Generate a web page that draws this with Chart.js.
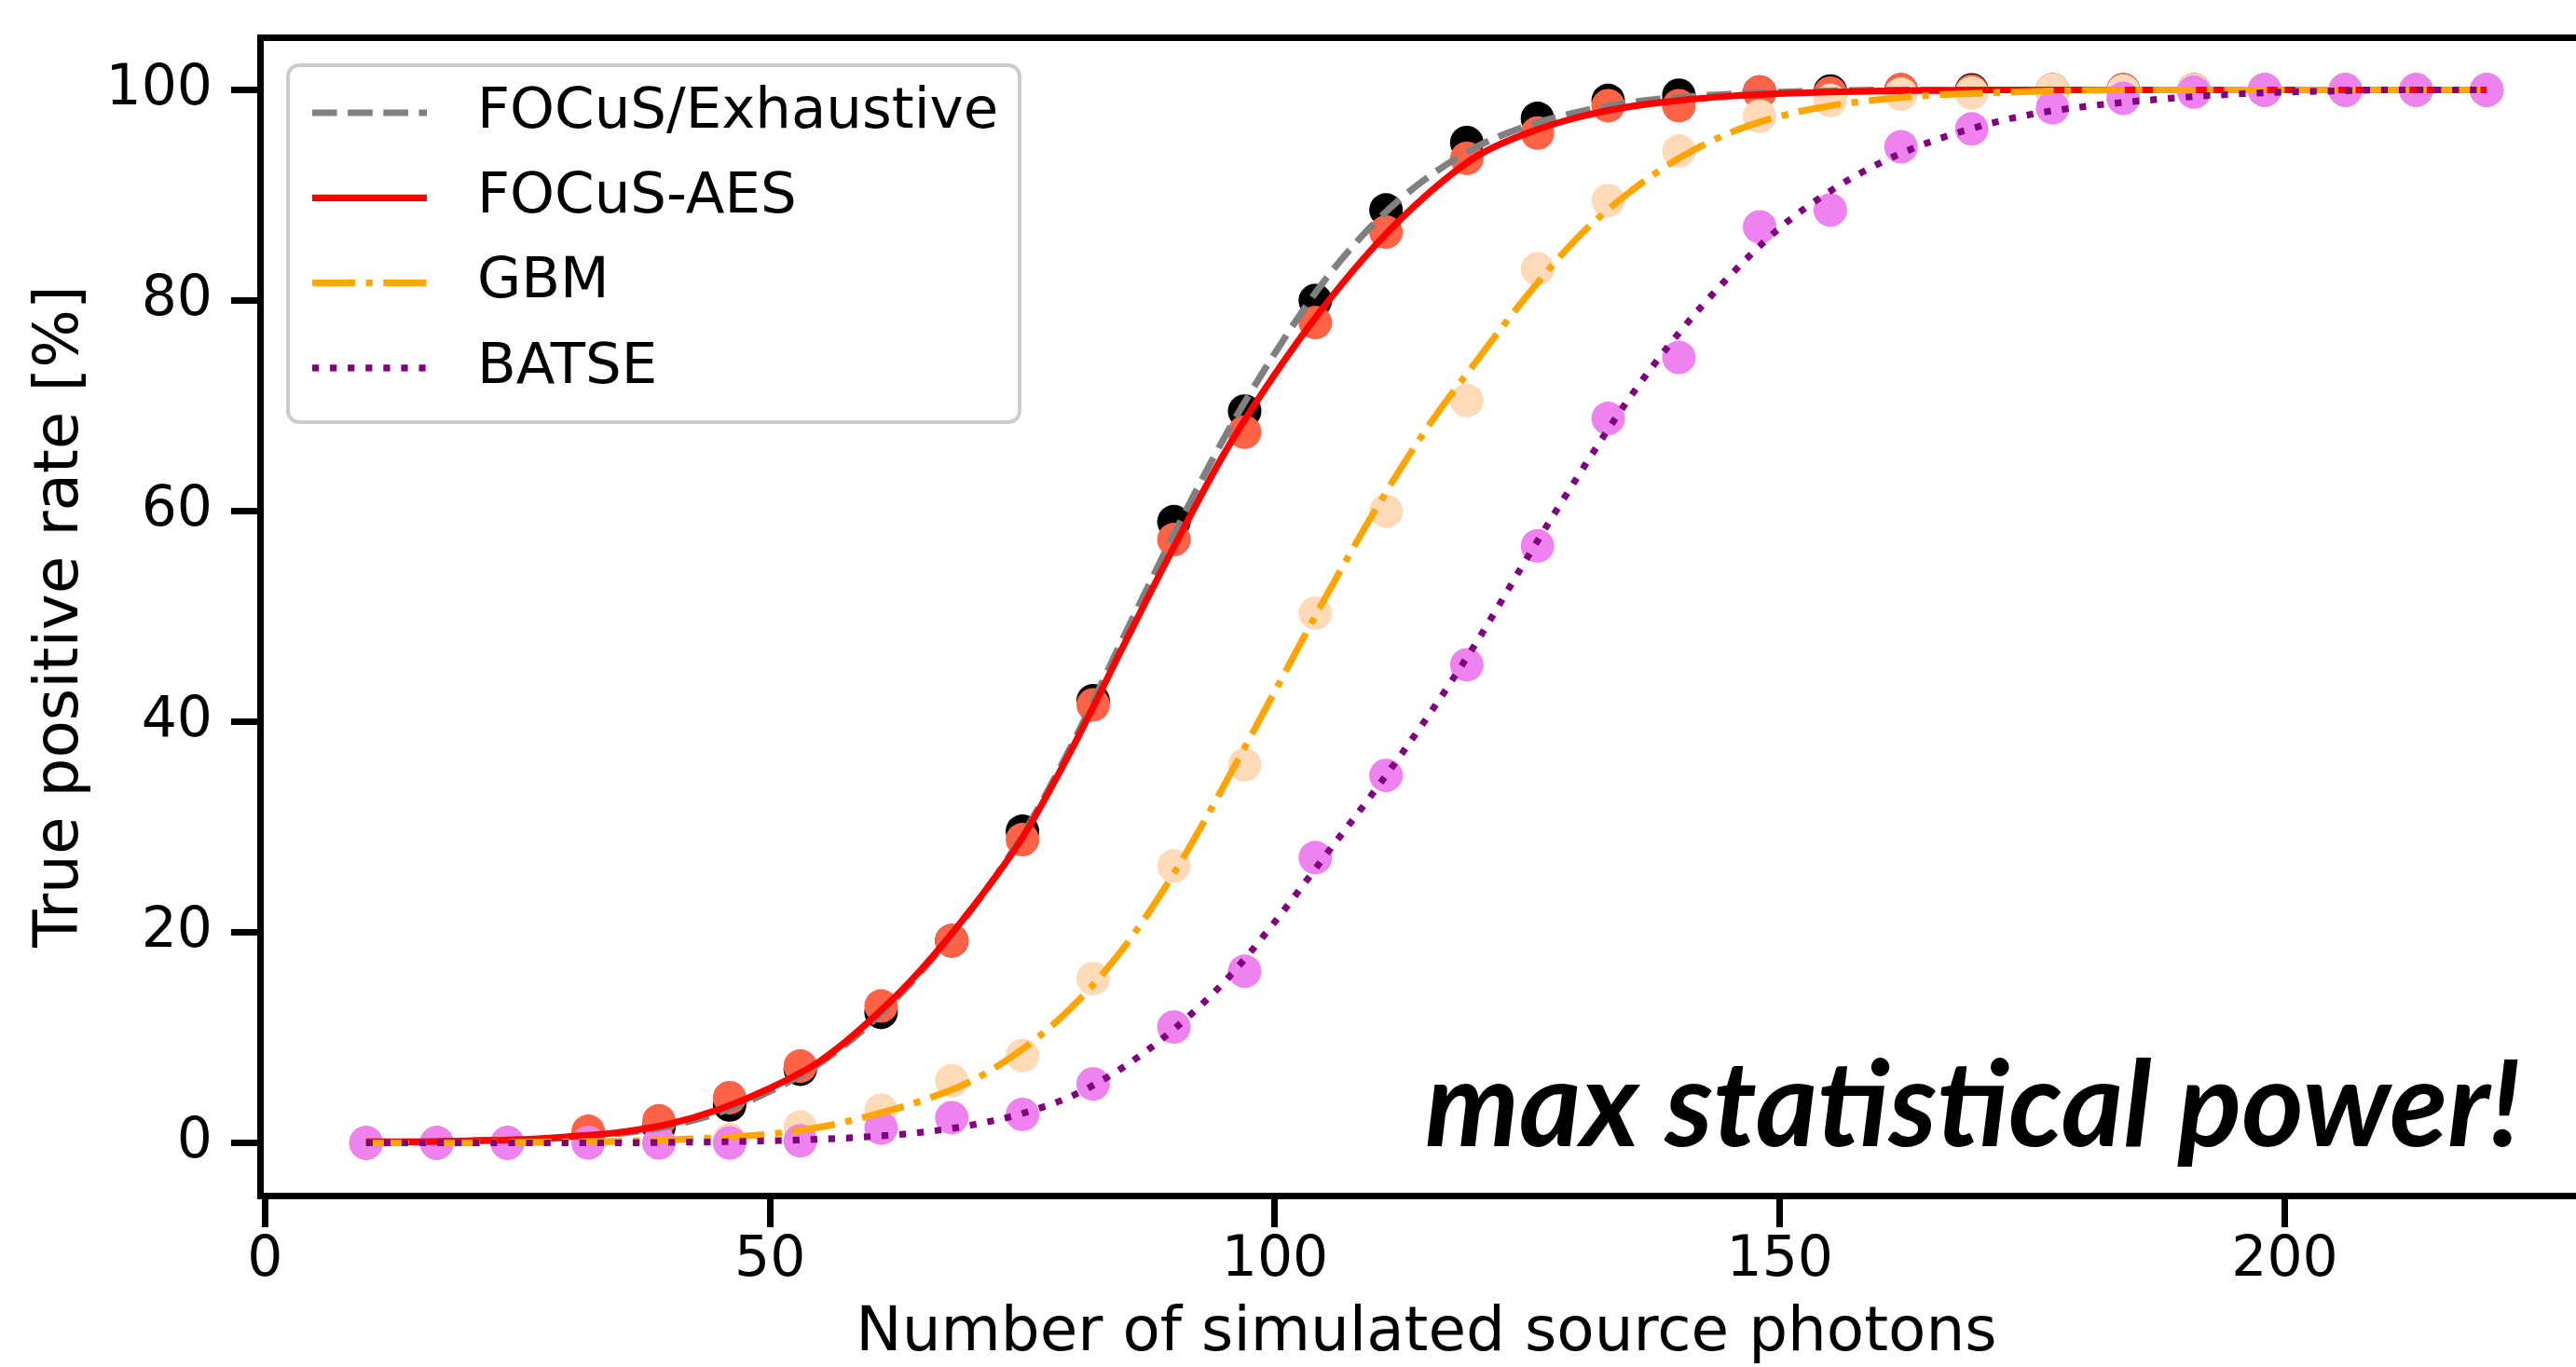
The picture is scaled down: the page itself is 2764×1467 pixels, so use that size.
<!DOCTYPE html>
<html>
<head>
<meta charset="utf-8">
<title>True positive rate vs source photons</title>
<script src="https://cdn.jsdelivr.net/npm/chart.js@4.4.1/dist/chart.umd.min.js"></script>
<style>
  html, body { margin: 0; padding: 0; overflow: hidden; background: #fff; }
  #wrap { width: 2800px; height: 1467px; }
</style>
</head>
<body>
<div id="wrap"><canvas id="tpr-canvas" width="2800" height="1467"></canvas></div>
<script>
// measured points (simulated source photons -> true positive rate in %)
const photons = [10, 17, 24, 32, 39, 46, 53, 61, 68, 75, 82, 90, 97, 104, 111, 119, 126, 133, 140, 148, 155, 162, 169, 177, 184, 191, 198, 206, 213, 220];
const exhaustiveRate = [0, 0, 0, 0.6, 1.5, 3.6, 7.0, 12.4, 19.2, 29.6, 42.0, 59.0, 69.5, 80.0, 88.6, 95.0, 97.3, 99.0, 99.5, 99.8, 99.9, 100, 100, 100, 100, 100, 100, 100, 100, 100];
const aesRate = [0, 0, 0, 1.1, 2.1, 4.3, 7.3, 13.0, 19.2, 28.8, 41.6, 57.3, 67.5, 77.9, 86.5, 93.5, 95.9, 98.5, 98.5, 99.8, 99.7, 100, 99.9, 100, 100, 100, 100, 100, 100, 100];
const gbmRate = [0, 0, 0, 0, 0, 0.3, 1.5, 3.1, 5.9, 8.3, 15.6, 26.3, 35.9, 50.3, 60.0, 70.5, 83.0, 89.5, 94.2, 97.5, 99.0, 99.6, 99.7, 100, 99.9, 100, 100, 100, 100, 100];
const batseRate = [0, 0, 0, 0, 0, 0, 0.2, 1.4, 2.4, 2.7, 5.6, 11.0, 16.3, 27.1, 34.9, 45.4, 56.7, 68.8, 74.6, 87.0, 88.6, 94.6, 96.3, 98.3, 99.2, 99.8, 100, 100, 100, 100];

// fitted curves, every 5 photons
const fitPhotons = [10, 15, 20, 25, 30, 35, 40, 45, 50, 55, 60, 65, 70, 75, 80, 85, 90, 95, 100, 105, 110, 115, 120, 125, 130, 135, 140, 145, 150, 155, 160, 165, 170, 175, 180, 185, 190, 195, 200, 205, 210, 215, 220];
const exhaustiveFit = [0.1, 0.1, 0.2, 0.3, 0.5, 0.9, 1.6, 2.9, 4.9, 7.6, 11.4, 16.3, 22.2, 29.2, 38.0, 48.0, 57.8, 67.0, 75.0, 82.0, 87.5, 91.6, 94.6, 96.6, 97.9, 98.8, 99.3, 99.6, 99.8, 99.9, 100, 100, 100, 100, 100, 100, 100, 100, 100, 100, 100, 100, 100];
const aesFit = [0.1, 0.1, 0.2, 0.3, 0.6, 1.0, 1.8, 3.2, 5.2, 7.8, 11.7, 16.5, 22.3, 29.0, 37.6, 47.2, 56.6, 65.5, 73.0, 79.6, 85.3, 90.0, 93.7, 95.9, 97.4, 98.4, 99.0, 99.4, 99.65, 99.8, 99.9, 99.95, 100, 100, 100, 100, 100, 100, 100, 100, 100, 100, 100];
const gbmFit = [0, 0, 0, 0.05, 0.1, 0.15, 0.3, 0.5, 0.85, 1.5, 2.6, 4.0, 5.9, 8.9, 13.0, 18.5, 25.6, 34.0, 42.9, 51.8, 60.2, 67.8, 74.3, 80.5, 86.0, 90.2, 93.5, 95.9, 97.5, 98.5, 99.1, 99.5, 99.7, 99.85, 99.95, 100, 100, 100, 100, 100, 100, 100, 100];
const batseFit = [0, 0, 0, 0, 0, 0, 0.05, 0.1, 0.2, 0.35, 0.6, 1.0, 1.7, 2.8, 4.5, 7.2, 10.8, 15.3, 21.0, 27.3, 33.6, 40.3, 47.6, 55.6, 63.3, 70.6, 76.9, 82.3, 86.9, 90.4, 93.1, 95.1, 96.6, 97.7, 98.4, 98.9, 99.3, 99.6, 99.8, 99.9, 100, 100, 100];

const seriesNames = ['FOCuS/Exhaustive', 'FOCuS-AES', 'GBM', 'BATSE'];
const xTicks = [0, 50, 100, 150, 200];
const yTicks = [0, 20, 40, 60, 80, 100];

const LW = 7.2;
// matplotlib-like line styles
const lineStyles = [
    { color: '#808080', dash: [3.7 * LW, 1.6 * LW] },
    { color: '#ff0000', dash: [] },
    { color: '#ffa500', dash: [6.4 * LW, 1.6 * LW, 1 * LW, 1.6 * LW] },
    { color: '#800080', dash: [1 * LW, 1.65 * LW] }
];
const dotColors = ['#000000', '#ff6347', '#ffdab9', '#ee82ee'];

const pts = (xs, ys) => xs.map((x, i) => ({ x: x, y: ys[i] }));
const rates = [exhaustiveRate, aesRate, gbmRate, batseRate];
const fits = [exhaustiveFit, aesFit, gbmFit, batseFit];

const datasets = [];
// lines on top of every dot, purple top-most (lowest order drawn last)
fits.forEach((f, i) => {
    datasets.push({
        label: seriesNames[i],
        data: pts(fitPhotons, f),
        showLine: true,
        pointRadius: 0,
        pointHoverRadius: 0,
        borderColor: lineStyles[i].color,
        borderWidth: LW,
        borderDash: lineStyles[i].dash,
        borderCapStyle: 'butt',
        cubicInterpolationMode: 'monotone',
        fill: false,
        order: 3 - i
    });
});
rates.forEach((r, i) => {
    datasets.push({
        label: seriesNames[i] + ' points',
        data: pts(photons, r),
        showLine: false,
        pointRadius: 18,
        pointHoverRadius: 18,
        pointBorderWidth: 0,
        pointBackgroundColor: dotColors[i],
        order: 7 - i
    });
});

// legend box in the upper left corner of the axes
const boxLegend = {
    id: 'boxLegend',
    afterDatasetsDraw(chart) {
        const { ctx, chartArea } = chart;
        const left = chartArea.left + 30;
        const top = chartArea.top + 30;
        ctx.save();
        ctx.beginPath();
        ctx.roundRect(left, top, 785, 383, 12);
        ctx.fillStyle = 'rgba(255, 255, 255, 0.8)';
        ctx.fill();
        ctx.lineWidth = 4;
        ctx.strokeStyle = '#cccccc';
        ctx.stroke();
        seriesNames.forEach((name, i) => {
            const y = top + 51 + i * 91.3;
            ctx.beginPath();
            ctx.setLineDash(lineStyles[i].dash);
            ctx.lineCap = 'butt';
            ctx.lineWidth = LW;
            ctx.strokeStyle = lineStyles[i].color;
            ctx.moveTo(left + 26, y);
            ctx.lineTo(left + 149, y);
            ctx.stroke();
            ctx.setLineDash([]);
            ctx.fillStyle = '#000';
            ctx.font = '61px "DejaVu Sans"';
            ctx.textBaseline = 'middle';
            ctx.textAlign = 'left';
            ctx.fillText(name, left + 203, y);
        });
        ctx.restore();
    }
};

// bold italic call-out in the lower right
const powerNote = {
    id: 'powerNote',
    afterDraw(chart) {
        const { ctx } = chart;
        ctx.save();
        ctx.font = 'italic 700 128px Lato, "Open Sans", sans-serif';
        ctx.fillStyle = '#000';
        ctx.textBaseline = 'alphabetic';
        ctx.textAlign = 'left';
        const txt = 'max statistical power!';
        const w = ctx.measureText(txt).width;
        ctx.translate(1529, 1230);
        ctx.scale(1176 / w, 1);
        ctx.fillText(txt, 0, 0);
        ctx.restore();
    }
};

Chart.defaults.font.family = '"DejaVu Sans"';
Chart.defaults.color = '#000';

const ctx = document.getElementById('tpr-canvas').getContext('2d');
new Chart(ctx, {
    type: 'scatter',
    data: { datasets: datasets },
    options: {
        responsive: false,
        animation: false,
        events: [],
        layout: { padding: { top: 40, right: 17, left: 0, bottom: 0 } },
        plugins: {
            legend: { display: false },
            tooltip: { enabled: false }
        },
        scales: {
            x: {
                type: 'linear',
                position: 'bottom',
                min: -0.5,
                max: 230.5,
                afterFit: s => { s.height = 184; s.paddingLeft = 0; s.paddingRight = 0; },
                afterBuildTicks: s => { s.ticks = xTicks.map(v => ({ value: v })); },
                grid: { display: true, drawOnChartArea: false, drawTicks: true, tickLength: 34, tickWidth: 7, tickColor: '#000' },
                border: { display: true, color: '#000', width: 7 },
                ticks: { color: '#000', font: { size: 60 }, padding: 0, maxRotation: 0 },
                title: {
                    display: true,
                    text: 'Number of simulated source photons',
                    color: '#000',
                    font: { size: 66 },
                    padding: { top: 0, bottom: -4 }
                }
            },
            xTop: {
                type: 'linear',
                position: 'top',
                min: -0.5,
                max: 230.5,
                afterFit: s => { s.height = 0; s.paddingLeft = 0; s.paddingRight = 0; },
                grid: { display: false, drawTicks: false },
                ticks: { display: false },
                border: { display: true, color: '#000', width: 7 }
            },
            y: {
                type: 'linear',
                position: 'left',
                min: -5,
                max: 105,
                afterFit: s => { s.width = 279; s.paddingTop = 0; s.paddingBottom = 0; },
                afterBuildTicks: s => { s.ticks = yTicks.map(v => ({ value: v })); },
                grid: { display: true, drawOnChartArea: false, drawTicks: true, tickLength: 31, tickWidth: 7, tickColor: '#000' },
                border: { display: true, color: '#000', width: 7 },
                ticks: { color: '#000', font: { size: 60 }, padding: 20 },
                title: {
                    display: true,
                    text: 'True positive rate [%]',
                    color: '#000',
                    font: { size: 66 },
                    padding: { top: 26, bottom: 0 }
                }
            }
        }
    },
    plugins: [boxLegend, powerNote]
});
</script>
</body>
</html>
